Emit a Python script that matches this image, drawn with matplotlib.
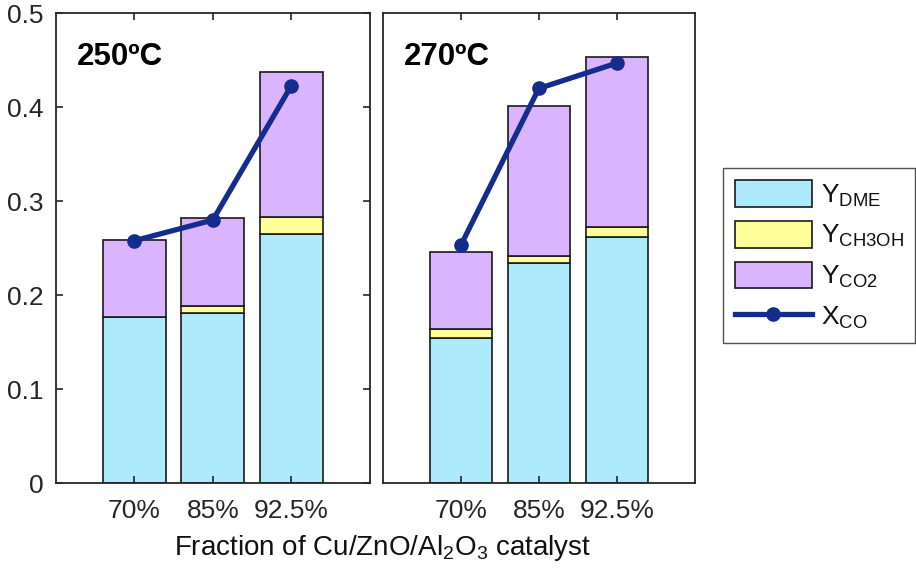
import matplotlib
matplotlib.use('Agg')
import matplotlib.pyplot as plt
import numpy as np

# data
fractions = ['70%', '85%', '92.5%']
temps = ['250ºC', '270ºC']

y_dme_250 = [0.177, 0.181, 0.265]
y_meoh_250 = [0.0, 0.008, 0.018]
y_co2_250 = [0.082, 0.093, 0.155]
x_co_250 = [0.258, 0.280, 0.423]

y_dme_270 = [0.155, 0.234, 0.262]
y_meoh_270 = [0.009, 0.008, 0.011]
y_co2_270 = [0.082, 0.159, 0.180]
x_co_270 = [0.253, 0.420, 0.447]

c_dme = '#ADEBFC'
c_meoh = '#FFFF99'
c_co2 = '#DAB4FE'
c_line = '#142C8E'

plt.rcParams['font.family'] = ['Liberation Sans', 'DejaVu Sans']
plt.rcParams['mathtext.fontset'] = 'custom'
plt.rcParams['mathtext.rm'] = 'Liberation Sans'
plt.rcParams['mathtext.default'] = 'regular'

fig = plt.figure(figsize=(9.16, 5.81), dpi=100)
ax1 = fig.add_axes([0.0608, 0.1682, 0.3431, 0.8090])
ax2 = fig.add_axes([0.4178, 0.1682, 0.3409, 0.8090])

x = np.arange(1, 4)
handles = None
for ax, temp, dme, meoh, co2, xco in [
        (ax1, temps[0], y_dme_250, y_meoh_250, y_co2_250, x_co_250),
        (ax2, temps[1], y_dme_270, y_meoh_270, y_co2_270, x_co_270)]:
    dme = np.array(dme)
    meoh = np.array(meoh)
    co2 = np.array(co2)
    b1 = ax.bar(x, dme, 0.8, color=c_dme, edgecolor='#1a1a1a', linewidth=1.2)
    b2 = ax.bar(x, meoh, 0.8, bottom=dme, color=c_meoh, edgecolor='#1a1a1a', linewidth=1.2)
    b3 = ax.bar(x, co2, 0.8, bottom=dme + meoh, color=c_co2, edgecolor='#1a1a1a', linewidth=1.2)
    ln, = ax.plot(x, xco, '-o', color=c_line, lw=3.8, ms=9.5)
    handles = [b1, b2, b3, ln]

    ax.set_xlim(0, 4)
    ax.set_ylim(0, 0.5)
    ax.set_xticks(x)
    ax.set_xticklabels(fractions)
    ax.text(0.067, 0.890, temp, transform=ax.transAxes, fontsize=22.5,
            fontweight='bold', va='baseline', ha='left')
    for s in ax.spines.values():
        s.set_linewidth(1.3)
        s.set_color('#262626')
    ax.tick_params(axis='x', direction='in', top=True, length=5, width=1.2,
                   labelsize=19, pad=11, colors='#262626')
    ax.tick_params(axis='y', direction='in', right=True, length=5, width=1.2,
                   labelsize=19, pad=9, colors='#262626')

ax1.set_yticks([0, 0.1, 0.2, 0.3, 0.4, 0.5])
ax1.set_yticklabels(['0', '0.1', '0.2', '0.3', '0.4', '0.5'])
ax2.set_yticks([])

fig.text(383 / 916, 1 - 555 / 581, 'Fraction of Cu/ZnO/Al$_2$O$_3$ catalyst',
         ha='center', va='baseline', fontsize=20, color='#111111')

leg = fig.legend(handles, ['Y$_{DME}$', 'Y$_{CH3OH}$', 'Y$_{CO2}$', 'X$_{CO}$'],
                 loc='upper left', bbox_to_anchor=(722.7 / 916, 1 - 168.3 / 581),
                 fontsize=19, frameon=True, fancybox=False, edgecolor='#262626',
                 handlelength=2.95, handleheight=1.17, handletextpad=0.31,
                 borderpad=0.45, labelspacing=0.47, borderaxespad=0)
leg.get_frame().set_linewidth(1.0)
for t in leg.get_texts():
    t.set_color('#111111')

fig.savefig('out.png', dpi=100)
